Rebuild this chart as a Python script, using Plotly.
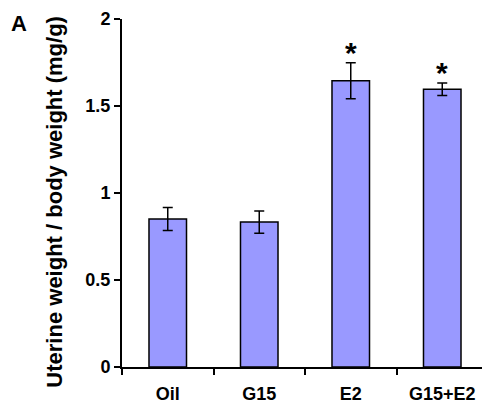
import plotly.graph_objects as go

categories = ["Oil", "G15", "E2", "G15+E2"]
values = [0.85, 0.833, 1.645, 1.596]
errors = [0.066, 0.064, 0.103, 0.036]
significant = [False, False, True, True]
y_ticks = [0, 0.5, 1, 1.5, 2]
y_tick_labels = ["0", "0.5", "1", "1.5", "2"]
y_title = "Uterine weight / body weight (mg/g)"
panel_label = "A"

FONT = "Liberation Sans, Arial, sans-serif"

fig = go.Figure()
fig.add_trace(go.Bar(
    x=categories, y=values, width=0.41,
    marker=dict(color="#9999FF", line=dict(color="black", width=1.5)),
    error_y=dict(type="data", array=errors, visible=True, color="black",
                 thickness=1.5, width=5),
))

for c, v, e, s in zip(categories, values, errors, significant):
    if s:
        fig.add_annotation(x=c, y=v + e, text="<b>*</b>", showarrow=False,
                           yanchor="bottom", yshift=-8,
                           font=dict(family=FONT, size=30, color="black"))

fig.add_annotation(xref="paper", yref="paper", x=-0.31, y=1.03,
                   xanchor="left", yanchor="top", text="<b>%s</b>" % panel_label,
                   showarrow=False, font=dict(family=FONT, size=22, color="black"))
fig.add_annotation(xref="paper", yref="paper", x=-0.185, y=0.476,
                   xanchor="center", yanchor="middle", textangle=-90,
                   text="<b>%s</b>" % y_title, showarrow=False,
                   font=dict(family=FONT, size=22, color="black"))

fig.update_layout(
    width=482, height=397,
    margin=dict(l=114, r=2, t=11, b=38, autoexpand=False),
    paper_bgcolor="white", plot_bgcolor="white",
    showlegend=False,
    font=dict(family=FONT, size=18, color="black"),
)
fig.update_xaxes(
    type="category", tickson="boundaries", ticks="outside", ticklen=6,
    tickwidth=1.5, tickcolor="black", showline=True, linecolor="black",
    linewidth=2, showgrid=False, range=[-0.5, 3.5], automargin=False,
    ticklabelstandoff=9,
    tickfont=dict(family=FONT, size=18, color="black"),
    tickvals=categories, ticktext=["<b>%s</b>" % c for c in categories],
)
fig.update_yaxes(
    range=[0, 2], tickvals=y_ticks, ticktext=["<b>%s</b>" % t for t in y_tick_labels],
    ticks="outside", ticklen=6, tickwidth=1.5, tickcolor="black",
    showline=True, linecolor="black", linewidth=2, showgrid=False, zeroline=False,
    automargin=False,
    tickfont=dict(family=FONT, size=18, color="black"),
)
fig.write_html("out.html")
